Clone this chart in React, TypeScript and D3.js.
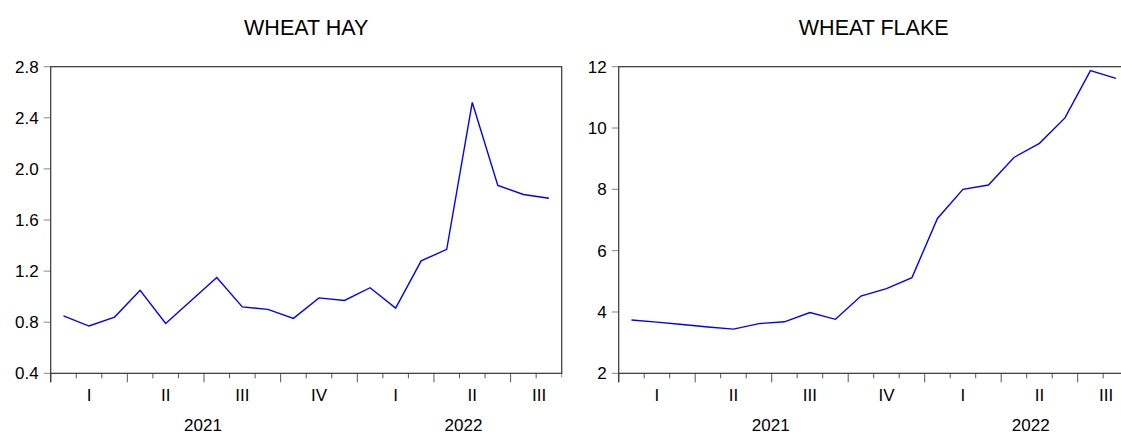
import React from "react";
import * as d3 from "d3";

// monthly observations, Jan 2021 .. Aug 2022
const months = [
  "2021-01", "2021-02", "2021-03", "2021-04", "2021-05", "2021-06",
  "2021-07", "2021-08", "2021-09", "2021-10", "2021-11", "2021-12",
  "2022-01", "2022-02", "2022-03", "2022-04", "2022-05", "2022-06",
  "2022-07", "2022-08",
];

const wheatHay = [
  0.85, 0.77, 0.84, 1.05, 0.79, 0.97, 1.15, 0.92, 0.9, 0.83,
  0.99, 0.97, 1.07, 0.91, 1.28, 1.37, 2.52, 1.87, 1.8, 1.77,
];

const wheatFlake = [
  3.74, 3.67, 3.59, 3.51, 3.44, 3.62, 3.68, 3.98, 3.76, 4.52,
  4.76, 5.12, 7.05, 8.0, 8.14, 9.04, 9.5, 10.33, 11.87, 11.62,
];

const hayTicks = [0.4, 0.8, 1.2, 1.6, 2.0, 2.4, 2.8];
const flakeTicks = [2, 4, 6, 8, 10, 12];
const quarterNames = ["I", "II", "III", "IV"];

const W = 1121;
const H = 434;
const top = 66.7;
const bottom = 373.3;
const font = "'Liberation Sans', Arial, Helvetica, sans-serif";

type PanelProps = {
  title: string;
  values: number[];
  ticks: number[];
  domain: [number, number];
  fmt: (v: number) => string;
  left: number;
  right: number;
};

const Panel = ({ title, values, ticks, domain, fmt, left, right }: PanelProps) => {
  const x = d3.scaleLinear().domain([-0.5, values.length - 0.5]).range([left, right]);
  const y = d3.scaleLinear().domain(domain).range([bottom, top]);
  const line = d3
    .line<number>()
    .x((_, i) => x(i))
    .y(d => y(d));

  const boundaries = d3.range(0, values.length).map(i => i - 0.5);
  const quarters = d3.range(0, values.length, 3);
  const years = Array.from(new Set(months.map(m => m.slice(0, 4))));

  return (
    <g>
      <text x={(left + right) / 2} y={35} textAnchor="middle" fontSize={21.5} fontFamily={font}>
        {title}
      </text>
      {/* y ticks */}
      {ticks.map(t => (
        <g key={t}>
          <line x1={left - 7} x2={left} y1={y(t)} y2={y(t)} stroke="#888" />
          <text x={left - 12} y={y(t) + 6} textAnchor="end" fontSize={17} fontFamily={font}>
            {fmt(t)}
          </text>
        </g>
      ))}
      {/* x ticks */}
      {boundaries.map((b, i) => (
        <line
          key={i}
          x1={x(b)}
          x2={x(b)}
          y1={bottom}
          y2={bottom + (i % 3 === 0 ? 9 : 5)}
          stroke="#555"
        />
      ))}
      <line x1={right} x2={right} y1={bottom} y2={bottom + 4} stroke="#888" />
      {quarters.map(q => {
        const q0 = x(q - 0.5);
        const q1 = Math.min(x(q + 2.5), right);
        const full = x(q + 2.5) <= right;
        const cx = full ? (q0 + q1) / 2 : (q0 + q1) / 2 + 3;
        return (
          <text key={q} x={cx} y={401} textAnchor="middle" fontSize={17} fontFamily={font}>
            {quarterNames[(+months[q].slice(5) - 1) / 3]}
          </text>
        );
      })}
      {years.map(yr => {
        const idx = months.map((m, i) => (m.startsWith(yr) ? i : -1)).filter(i => i >= 0);
        const a = x(idx[0] - 0.5);
        const b = Math.min(x(idx[0] + 11.5), right);
        const full = x(idx[0] + 11.5) <= right;
        return (
          <text key={yr} x={(a + b) / 2 + (full ? -1 : 4)} y={430.5} textAnchor="middle" fontSize={17} fontFamily={font}>
            {yr}
          </text>
        );
      })}
      <path d={line(values) ?? ""} fill="none" stroke="#0000ff" strokeWidth={1.4} />
      {/* frame */}
      <rect x={left} y={top} width={right - left} height={bottom - top} fill="none" stroke="#333" strokeWidth={1.2} />
      <line x1={left} x2={left} y1={bottom} y2={bottom + 9} stroke="#333" strokeWidth={1.2} />
    </g>
  );
};

export default function App() {
  const f1 = d3.format(".1f");
  const f0 = d3.format("d");
  return (
    <svg width={W} height={H} style={{ position: "absolute", left: 0, top: 0, background: "#fff" }}>
      <rect width={W} height={H} fill="#fff" />
      <Panel title="WHEAT HAY" values={wheatHay} ticks={hayTicks} domain={[0.4, 2.8]} fmt={f1} left={50.7} right={561.7} />
      <Panel title="WHEAT FLAKE" values={wheatFlake} ticks={flakeTicks} domain={[2, 12]} fmt={f0} left={618.7} right={1128.7} />
    </svg>
  );
}
